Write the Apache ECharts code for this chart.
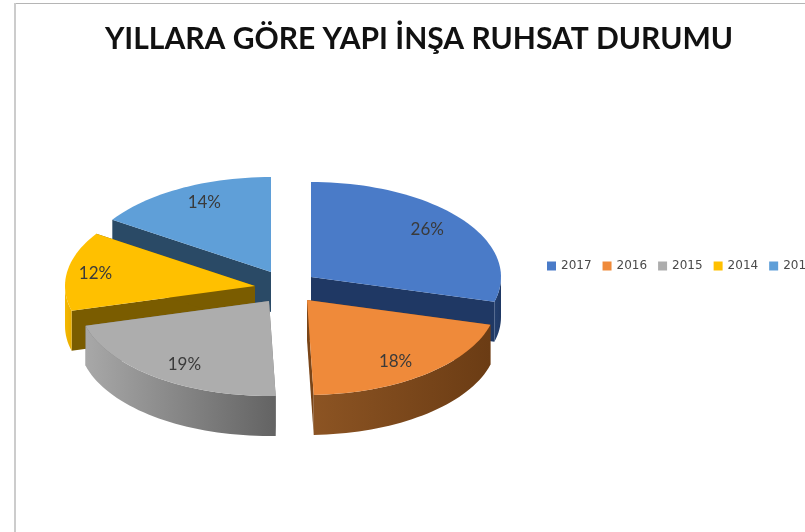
<!DOCTYPE html>
<html>
<head>
<meta charset="utf-8">
<style>
html, body { margin: 0; padding: 0; background: #fff; }
/* the original is a soft, scaled-up screenshot */
#container { width: 805px; height: 532px; filter: blur(0.6px); }
</style>
<script src="https://cdn.jsdelivr.net/npm/echarts@6/dist/echarts.min.js"></script>
</head>
<body>
<div id="container"></div>
<script>
var years = ['2017', '2016', '2015', '2014', '2013'];
var percents = [26, 18, 19, 12, 14];
var titleText = 'YILLARA GÖRE YAPI İNŞA RUHSAT DURUMU';

var topColors = ['#4a7bc8', '#ef8a3a', '#adadad', '#ffc000', '#5f9fd8'];
var sideColors = ['#1f3864', '#7a4518', '#777777', '#7a5c00', '#2a4a66'];
var rimLeft = ['#24406f', '#8c5423', '#a8a8a8', '#f5b800', '#2a4a66'];
var rimRight = ['#1f3864', '#6b3c14', '#636363', '#e8ad00', '#2a4a66'];

// where each exploded slice sits, and paint order
var centers = [[311, 277], [307, 300], [269, 301], [255, 286], [271, 272]];
var labelPos = [0.77, 0.75, 0.75, 0.85, 0.74];
var zOrder = [2, 4, 5, 3, 1];
var rx = 190, ry = 95, depth = 40;

var total = percents.reduce(function (a, b) { return a + b; }, 0);

function rimPoint(c, deg, drop) {
    var a = deg * Math.PI / 180;
    return [c[0] + rx * Math.sin(a), c[1] - ry * Math.cos(a) + drop];
}

function arcPoints(c, from, to, drop) {
    var pts = [];
    var n = Math.max(2, Math.ceil((to - from) / 2));
    for (var i = 0; i <= n; i++) {
        pts.push(rimPoint(c, from + (to - from) * i / n, drop));
    }
    return pts;
}

function face(points, fill) {
    return { type: 'polygon', shape: { points: points }, style: { fill: fill } };
}

function radialFace(c, deg, fill) {
    var c2 = [c[0], c[1] + depth];
    return face([c, rimPoint(c, deg, 0), rimPoint(c, deg, depth), c2], fill);
}

function makeRender(index) {
    return function (params, api) {
        var value = api.value(0);
        var before = 0;
        for (var i = 0; i < index; i++) before += percents[i];
        var start = before / total * 360;
        var end = start + value / total * 360;
        var c = centers[index];
        var children = [];

        children.push(radialFace(c, start, sideColors[index]));
        children.push(radialFace(c, end, sideColors[index]));

        // only the front half of the rim can be seen
        var rimFrom = Math.max(start, 90), rimTo = Math.min(end, 270);
        if (rimTo > rimFrom) {
            var upper = arcPoints(c, rimFrom, rimTo, 0);
            var lower = arcPoints(c, rimFrom, rimTo, depth).reverse();
            children.push(face(upper.concat(lower), new echarts.graphic.LinearGradient(0, 0, 1, 0, [
                { offset: 0, color: rimLeft[index] },
                { offset: 1, color: rimRight[index] }
            ])));
        }

        children.push(face([c].concat(arcPoints(c, start, end, 0)), topColors[index]));

        var mid = (start + end) / 2 * Math.PI / 180;
        children.push({
            type: 'text',
            style: {
                x: c[0] + labelPos[index] * rx * Math.sin(mid),
                y: c[1] - 0.83 * ry * Math.cos(mid),
                text: value + '%',
                fill: '#3a3a3a',
                font: '17px Lato',
                align: 'center',
                verticalAlign: 'middle'
            }
        });
        return { type: 'group', children: children };
    };
}

var _series = years.map(function (year, i) {
    return {
        name: year,
        type: 'custom',
        coordinateSystem: 'none',
        silent: true,
        z: zOrder[i],
        itemStyle: { color: topColors[i] },
        data: [[percents[i]]],
        renderItem: makeRender(i)
    };
});

var myChart = echarts.init(document.getElementById('container'), null, { renderer: 'canvas' });

myChart.setOption({
    animation: false,
    backgroundColor: '#ffffff',
    title: {
        text: titleText,
        left: 414,
        top: 19,
        textAlign: 'center',
        textStyle: { fontFamily: 'Lato', fontWeight: 'bold', fontSize: 30, color: '#111111' }
    },
    legend: {
        data: years,
        orient: 'horizontal',
        left: 542,
        top: 255,
        width: 400,
        icon: 'rect',
        itemWidth: 9,
        itemHeight: 9,
        itemGap: 11,
        textStyle: { fontFamily: 'DejaVu Sans', fontSize: 12, color: '#4a4a4a' }
    },
    graphic: [
        { type: 'rect', silent: true, shape: { x: 15, y: 3, width: 790, height: 1 }, style: { fill: '#b5b5b5' } },
        { type: 'rect', silent: true, shape: { x: 14, y: 3, width: 2, height: 529 }, style: { fill: '#cccccc' } }
    ],
    series: _series
});
</script>
</body>
</html>
